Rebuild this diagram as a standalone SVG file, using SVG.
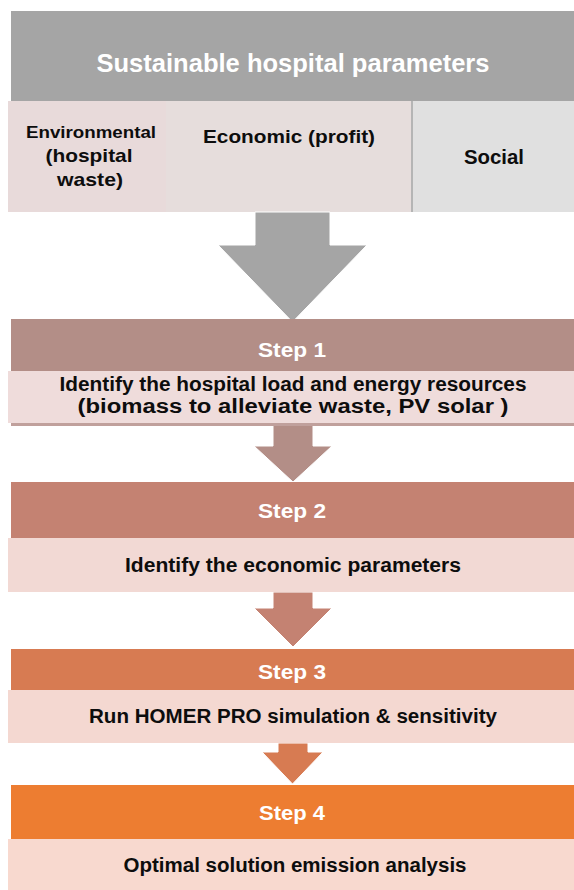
<svg xmlns="http://www.w3.org/2000/svg" width="574" height="890" viewBox="0 0 574 890">
<style>
text{font-family:"Liberation Sans",Arial,sans-serif;font-weight:bold;text-anchor:middle}
.dark{fill:#0d0d0d}
.wh{fill:#ffffff}
.arrow{stroke:#ffffff;stroke-width:1}
</style>
<rect width="574" height="890" fill="#ffffff"/>
<g id="header">
<rect x="11" y="11" width="563" height="90" fill="#a5a5a5"/>
<text class="wh" x="293" y="72" font-size="25" textLength="393" lengthAdjust="spacingAndGlyphs">Sustainable hospital parameters</text>
</g>
<g id="environmental">
<rect x="8" y="101" width="158" height="111" fill="#e8dada"/>
<text class="dark" x="91" y="138" font-size="16.5" textLength="130" lengthAdjust="spacingAndGlyphs">Environmental</text>
<text class="dark" x="89" y="162" font-size="19" textLength="87" lengthAdjust="spacingAndGlyphs">(hospital</text>
<text class="dark" x="90" y="186" font-size="19" textLength="66" lengthAdjust="spacingAndGlyphs">waste)</text>
</g>
<g id="economic">
<rect x="166" y="101" width="246" height="111" fill="#e6dddc"/>
<text class="dark" x="289" y="143" font-size="18.5" textLength="172" lengthAdjust="spacingAndGlyphs">Economic (profit)</text>
</g>
<g id="social">
<rect x="412" y="101" width="162" height="111" fill="#e0e0e0"/>
<line x1="412" y1="101" x2="412" y2="212" stroke="#b5b5b5" stroke-width="2"/>
<text class="dark" x="494" y="164" font-size="19.5" textLength="60" lengthAdjust="spacingAndGlyphs">Social</text>
</g>
<g id="connectors">
<polygon class="arrow" fill="#a5a5a5" points="255,212 330,212 330,245 367,245 292.5,322 218,245 255,245"/>
<polygon class="arrow" fill="#b38e87" points="273,425 313,425 313,446 332,446 293,482 254,446 273,446"/>
<polygon class="arrow" fill="#c48272" points="273,592 313,592 313,608 332,608 293,647 254,608 273,608"/>
<polygon class="arrow" fill="#d77b52" points="278,743 308,743 308,752 323,752 292.5,784 262,752 278,752"/>
</g>
<g id="step1">
<rect x="11" y="319" width="563" height="52" fill="#b38e87"/>
<text class="wh" x="292" y="357" font-size="21" textLength="68" lengthAdjust="spacingAndGlyphs">Step 1</text>
<rect x="11" y="373" width="563" height="53" fill="#c0a09c"/>
<rect x="8" y="371" width="566" height="52" fill="#efdcdb"/>
<text class="dark" x="293" y="391" font-size="19.5" textLength="467" lengthAdjust="spacingAndGlyphs">Identify the hospital load and energy resources</text>
<text class="dark" x="293" y="413" font-size="19.5" textLength="431" lengthAdjust="spacingAndGlyphs">(biomass to alleviate waste, PV solar )</text>
</g>
<g id="step2">
<rect x="11" y="482" width="563" height="56" fill="#c48272"/>
<text class="wh" x="292" y="518" font-size="21" textLength="68" lengthAdjust="spacingAndGlyphs">Step 2</text>
<rect x="8" y="538" width="566" height="54" fill="#f2d9d4"/>
<text class="dark" x="293" y="572" font-size="19.5" textLength="336" lengthAdjust="spacingAndGlyphs">Identify the economic parameters</text>
</g>
<g id="step3">
<rect x="11" y="649" width="563" height="41" fill="#d77b52"/>
<text class="wh" x="292" y="679" font-size="21" textLength="68" lengthAdjust="spacingAndGlyphs">Step 3</text>
<rect x="8" y="690" width="566" height="53" fill="#f4d8d1"/>
<text class="dark" x="293" y="723" font-size="19.5" textLength="408" lengthAdjust="spacingAndGlyphs">Run HOMER PRO simulation &amp; sensitivity</text>
</g>
<g id="step4">
<rect x="11" y="785" width="563" height="54" fill="#ed7d31"/>
<text class="wh" x="292" y="820" font-size="21" textLength="66" lengthAdjust="spacingAndGlyphs">Step 4</text>
<rect x="8" y="839" width="566" height="51" fill="#f8d9cf"/>
<text class="dark" x="295" y="872" font-size="19.5" textLength="343" lengthAdjust="spacingAndGlyphs">Optimal solution emission analysis</text>
</g>
</svg>
